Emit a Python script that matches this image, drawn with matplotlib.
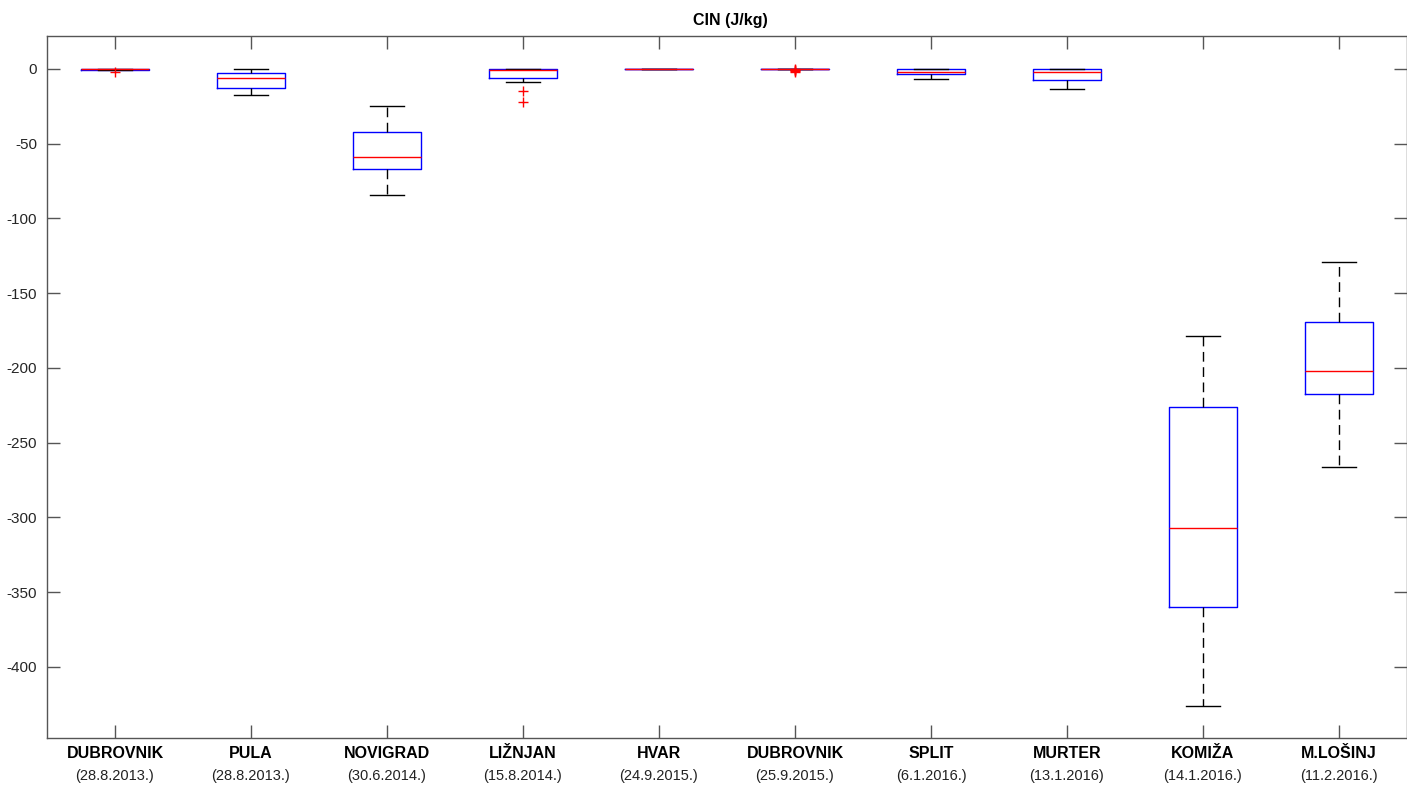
import numpy as np
import matplotlib
matplotlib.use('Agg')
import matplotlib.pyplot as plt

# CIN (J/kg) box statistics
stations = ['DUBROVNIK', 'PULA', 'NOVIGRAD', 'LIŽNJAN', 'HVAR',
            'DUBROVNIK', 'SPLIT', 'MURTER', 'KOMIŽA', 'M.LOŠINJ']
dates = ['(28.8.2013.)', '(28.8.2013.)', '(30.6.2014.)', '(15.8.2014.)', '(24.9.2015.)',
         '(25.9.2015.)', '(6.1.2016.)', '(13.1.2016)', '(14.1.2016.)', '(11.2.2016.)']

med = [0.0, -6.0, -59.0, -0.5, 0.0, 0.0, -2.0, -2.0, -307.0, -201.8]
q1 = [-0.7, -12.7, -67.0, -5.8, 0.0, 0.0, -3.3, -7.1, -360.0, -217.2]
q3 = [0.0, -2.7, -42.0, 0.0, 0.0, 0.0, 0.0, 0.0, -226.0, -169.5]
whislo = [-0.7, -17.4, -84.3, -8.7, 0.0, 0.0, -6.5, -13.2, -426.0, -266.0]
whishi = [0.0, 0.0, -24.7, 0.0, 0.0, 0.0, 0.0, 0.0, -178.4, -128.9]
fliers = [[-1.8], [], [], [-14.5, -22.0], [],
          [-0.3, -0.6, -1.0, -1.4, -1.8], [], [], [], []]

yticks = [0, -50, -100, -150, -200, -250, -300, -350, -400]

plt.rcParams['font.family'] = ['Liberation Sans', 'DejaVu Sans']
plt.rcParams['lines.scale_dashes'] = False

stats = []
for i in range(len(stations)):
    stats.append(dict(med=med[i], q1=q1[i], q3=q3[i], whislo=whislo[i],
                      whishi=whishi[i], fliers=np.array(fliers[i])))

fig = plt.figure(figsize=(14.07, 7.89), dpi=100)
ax = fig.add_axes([47 / 1407, 1 - 738 / 789, 1 - 47 / 1407, (738 - 36) / 789])

positions = np.arange(1, len(stations) + 1)
ax.bxp(stats, positions=positions, widths=0.5, capwidths=0.25,
       boxprops=dict(color='blue', lw=1.0),
       medianprops=dict(color='red', lw=1.0, zorder=3),
       whiskerprops=dict(color='black', lw=1.0, ls=(0, (7, 4))),
       capprops=dict(color='black', lw=1.0),
       flierprops=dict(marker='+', markeredgecolor='red', markersize=7,
                       markeredgewidth=1.0, ls='none'))

ax.set_xlim(0.5, 10.5)
ax.set_ylim(-447.5, 22)
ax.set_yticks(yticks)
ax.set_yticklabels([str(v) for v in yticks])
ax.set_xticks(positions)
ax.set_xticklabels([''] * len(positions))

axis_col = '#555555'
for sp in ax.spines.values():
    sp.set_color(axis_col)
    sp.set_linewidth(1.0)
ax.tick_params(direction='in', length=9.5, width=1.0, color=axis_col,
               top=True, right=True, labelsize=11, labelcolor='#262626', pad=7)

trans = ax.get_xaxis_transform()
for x, name, d in zip(positions, stations, dates):
    ax.annotate(name, xy=(x, 0), xycoords=trans, xytext=(0, -11), textcoords='offset points',
                ha='center', va='center', fontsize=11.5, fontweight='bold', color='black')
    ax.annotate(d, xy=(x, 0), xycoords=trans, xytext=(0, -27.5), textcoords='offset points',
                ha='center', va='center', fontsize=10.5, color='#222222')

fig.text(730 / 1407, 1 - 20 / 789, 'CIN (J/kg)', ha='center', va='center',
         fontsize=11.5, fontweight='bold')

plt.savefig('out.png', dpi=100)
plt.close(fig)
